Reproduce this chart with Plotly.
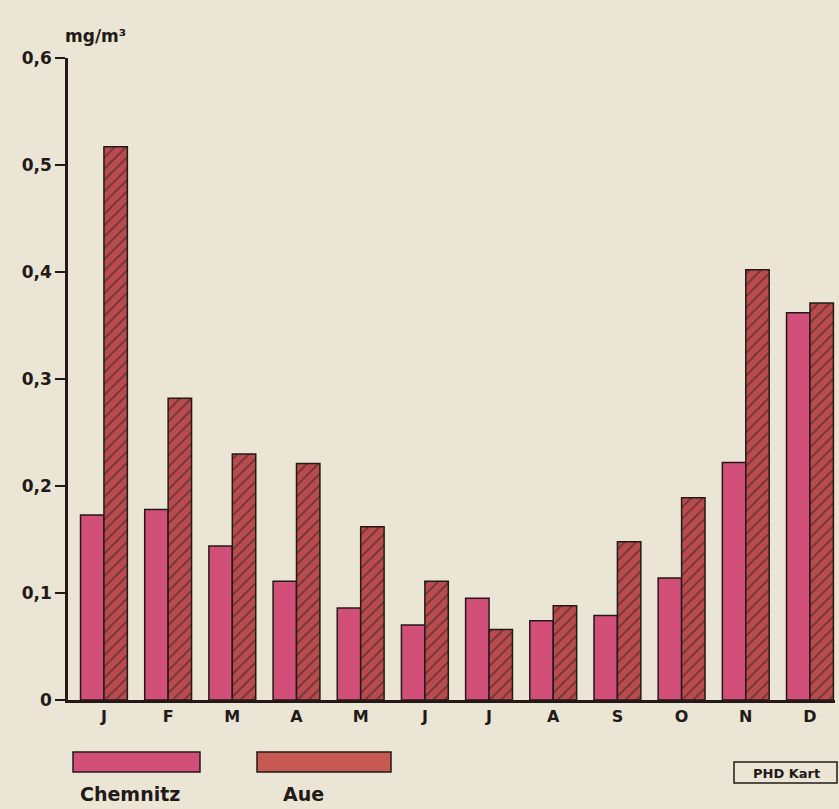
import plotly.graph_objects as go

months = ["J", "F", "M", "A", "M", "J", "J", "A", "S", "O", "N", "D"]
chemnitz = [0.173, 0.178, 0.144, 0.111, 0.086, 0.070, 0.095, 0.074, 0.079, 0.114, 0.222, 0.362]
aue = [0.517, 0.282, 0.230, 0.221, 0.162, 0.111, 0.066, 0.088, 0.148, 0.189, 0.402, 0.371]
y_ticks = [0, 0.1, 0.2, 0.3, 0.4, 0.5, 0.6]
y_ticklabels = ["0", "0,1", "0,2", "0,3", "0,4", "0,5", "0,6"]

positions = list(range(len(months)))
BG = "#eae5d4"
INK = "#231a18"
PINK = "#d24f7a"
RED = "#b84b4e"
FONT = "DejaVu Sans"

fig = go.Figure()
fig.add_trace(go.Bar(
    x=positions, y=chemnitz, name="Chemnitz",
    marker=dict(color=PINK, line=dict(color=INK, width=1.5)),
))
fig.add_trace(go.Bar(
    x=positions, y=aue, name="Aue",
    marker=dict(color=RED, line=dict(color=INK, width=1.5),
                pattern=dict(shape="/", fgcolor=INK, bgcolor=RED, size=8, solidity=0.22)),
))

W, H = 839, 809
L, R, T, B = 68, 4, 58, 109
pw, ph = W - L - R, H - T - B

def px(x):
    return (x - L) / pw

def py(y):
    return (H - B - y) / ph

shapes = [
    dict(type="rect", xref="paper", yref="paper", x0=px(73), x1=px(200), y0=py(772), y1=py(752),
         fillcolor=PINK, line=dict(color=INK, width=1.5)),
    dict(type="rect", xref="paper", yref="paper", x0=px(257), x1=px(391), y0=py(772), y1=py(752),
         fillcolor="#c65a52", line=dict(color=INK, width=1.5)),
    dict(type="rect", xref="paper", yref="paper", x0=px(734), x1=px(837), y0=py(783), y1=py(762),
         fillcolor="rgba(0,0,0,0)", line=dict(color=INK, width=1.5)),
]
annotations = [
    dict(xref="paper", yref="paper", x=px(130), y=py(794), text="<b>Chemnitz</b>", showarrow=False,
         font=dict(family=FONT, size=19, color=INK), xanchor="center", yanchor="middle"),
    dict(xref="paper", yref="paper", x=px(303), y=py(794), text="<b>Aue</b>", showarrow=False,
         font=dict(family=FONT, size=19, color=INK), xanchor="center", yanchor="middle"),
    dict(xref="paper", yref="paper", x=px(786), y=py(773), text="<b>PHD Kart</b>", showarrow=False,
         font=dict(family=FONT, size=13, color=INK), xanchor="center", yanchor="middle"),
    dict(xref="paper", yref="paper", x=px(63), y=py(36), text="<b>mg/m³</b>", showarrow=False,
         font=dict(family=FONT, size=17, color=INK), xanchor="left", yanchor="middle"),
]

fig.update_layout(
    width=W, height=H,
    margin=dict(l=L, r=R, t=T, b=B, pad=0),
    paper_bgcolor=BG, plot_bgcolor=BG,
    barmode="group", bargap=0.27, bargroupgap=0,
    showlegend=False,
    shapes=shapes, annotations=annotations,
    font=dict(family=FONT, color=INK),
)
fig.update_xaxes(
    range=[-0.56, 11.39], tickmode="array", tickvals=positions, ticktext=months,
    showgrid=False, zeroline=False, showline=True, linecolor=INK, linewidth=2.5,
    ticks="", tickfont=dict(family=FONT, size=16, color=INK, weight="bold"),
)
fig.update_yaxes(
    range=[0, 0.6], tickmode="array", tickvals=y_ticks, ticktext=y_ticklabels,
    showgrid=False, zeroline=False, showline=True, linecolor=INK, linewidth=2.5,
    ticks="outside", ticklen=10, tickwidth=2, tickcolor=INK,
    tickfont=dict(family=FONT, size=17, color=INK, weight="bold"),
)

fig.write_html(
    "out.html",
    config={"displayModeBar": False},
    post_script="document.body.style.margin='0';document.body.style.padding='0';"
                "document.body.style.background='" + BG + "';",
)
